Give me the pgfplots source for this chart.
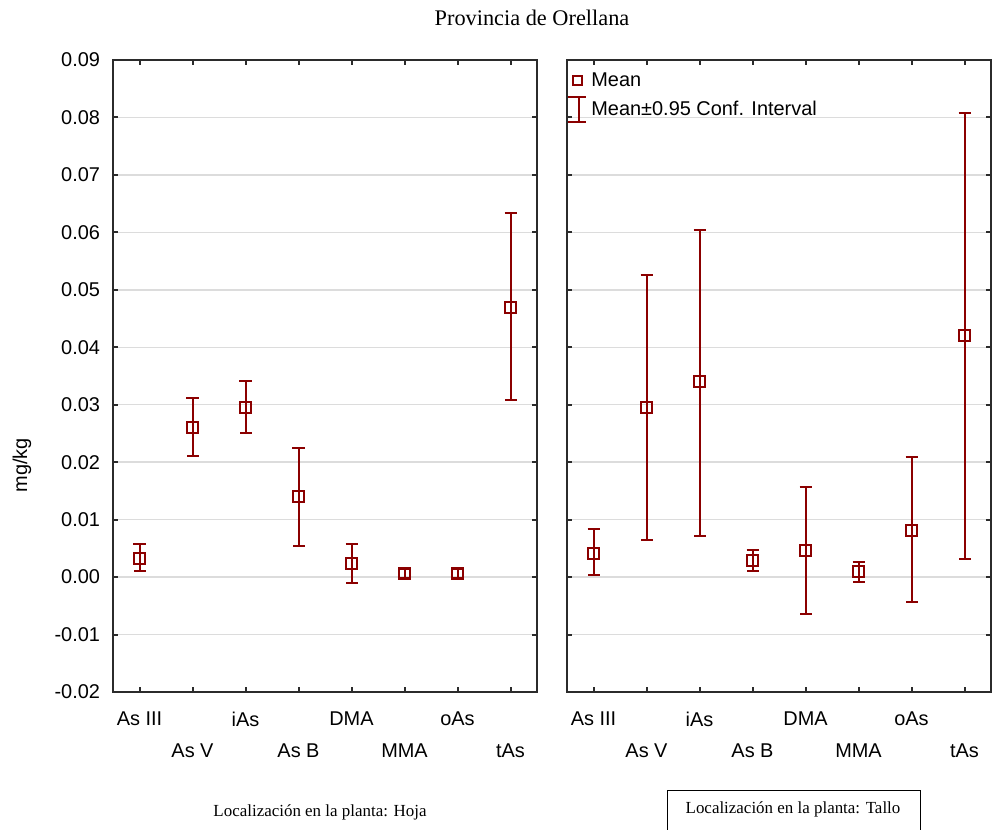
\documentclass[border=0pt]{standalone}
\usepackage{fontspec}
\setmainfont{Liberation Sans}
\newfontfamily\seriffont{Liberation Serif}
\usepackage{pgfplots}
\usepackage{pgfplotstable}
\pgfplotsset{compat=1.18}
\definecolor{dred}{HTML}{8B0000}
\definecolor{gridgray}{HTML}{DCDCDC}
\definecolor{axgray}{HTML}{2B2B2B}

% mean, upper and lower half-widths of the 95% CI
\pgfplotstableread{
x y ep em
0 0.0033 0.0024 0.0022
1 0.0260 0.0051 0.0049
2 0.0296 0.0046 0.0045
3 0.0140 0.0085 0.0085
4 0.0024 0.0033 0.0034
5 0.0006 0.0008 0.0008
6 0.0006 0.0008 0.0008
7 0.0470 0.0164 0.0162
}\hoja
\pgfplotstableread{
x y ep em
0 0.0041 0.0043 0.0038
1 0.0295 0.0230 0.0230
2 0.0340 0.0264 0.0269
3 0.0029 0.0019 0.0018
4 0.0046 0.0111 0.0110
5 0.0009 0.0017 0.0018
6 0.0081 0.0128 0.0124
7 0.0420 0.0388 0.0389
}\tallo

\pgfplotsset{
  panel/.style={
    anchor=south west, scale only axis, width=212bp, height=316bp,
    xmin=-0.5, xmax=7.5, ymin=-0.02, ymax=0.09,
    xtick={0,2,4,6}, xticklabels={As III, iAs, DMA, oAs},
    extra x ticks={1,3,5,7}, extra x tick labels={As V, As B, MMA, tAs},
    extra x tick style={xticklabel style={yshift=-16bp}},
    ytick={-0.02,-0.01,0,0.01,0.02,0.03,0.04,0.05,0.06,0.07,0.08,0.09},
    scaled y ticks=false,
    tick align=inside, major tick length=2.5bp,
    ymajorgrids, grid style={gridgray, line width=0.75bp},
    axis line style={axgray, line width=1bp},
    tick style={axgray, line width=1bp},
    tick label style={font=\fontsize{10}{12}\selectfont},
    xticklabel style={yshift=-6.5bp},
    y tick label style={/pgf/number format/.cd, fixed, fixed zerofill,
      precision=2, assume math mode=true, /tikz/.cd, xshift=-3bp},
    clip=false,
  },
  means/.style={dred, line width=1bp, only marks, mark=square,
    mark size=2.75bp, mark options={solid, fill=white},
    error bars/.cd, y dir=both, y explicit,
    error bar style={dred, line width=1bp},
    error mark options={dred, line width=1bp, mark size=3bp, rotate=90},
    /pgfplots/.cd},
}

\begin{document}
\begin{tikzpicture}
\useasboundingbox (0bp,0bp) rectangle (496bp,-415bp);

\begin{axis}[panel, at={(56.5bp,-346bp)},
    ylabel={mg/kg}, ylabel style={at={(axis description cs:-0.2146,0.359)},
      anchor=center, font=\fontsize{10}{12}\selectfont}]
  \addplot[means] table[x=x, y=y, y error plus=ep, y error minus=em] {\hoja};
\end{axis}

\begin{axis}[panel, at={(283.5bp,-346bp)}, yticklabels={},
    legend style={at={(axis description cs:0,1)}, anchor=north west,
      yshift=-4bp, draw=none, fill=none, inner sep=0pt,
      font=\fontsize{10}{12}\selectfont, row sep=1.5bp,
      /tikz/every even column/.append style={column sep=3bp}},
    legend cell align=left]
  \addplot[forget plot, means] table[x=x, y=y, y error plus=ep, y error minus=em] {\tallo};
  \addlegendimage{legend image code/.code={
      \draw[dred, line width=1bp, fill=white] (2.3bp,-2.2bp) rectangle (6.7bp,2.2bp);}}
  \addlegendentry{Mean}
  \addlegendimage{legend image code/.code={
      \draw[dred, line width=1bp] (5.5bp,-6.25bp) -- (5.5bp,6.25bp)
        (0bp,-6.25bp) -- (9bp,-6.25bp) (0bp,6.25bp) -- (9bp,6.25bp);}}
  \addlegendentry{Mean±0.95 Conf. Interval}
\end{axis}

\node[font=\seriffont\fontsize{11.2}{13}\selectfont] at (266bp,-9bp) {Provincia de Orellana};
\node[font=\seriffont\fontsize{8.5}{10}\selectfont] at (160bp,-406bp) {Localización en la planta: Hoja};
\node[font=\seriffont\fontsize{8.5}{10}\selectfont] at (396.5bp,-404.5bp) {Localización en la planta: Tallo};
\draw[line width=0.5bp] (333.5bp,-415bp) -- (333.5bp,-395bp) -- (460bp,-395bp) -- (460bp,-415bp);
\end{tikzpicture}
\end{document}
